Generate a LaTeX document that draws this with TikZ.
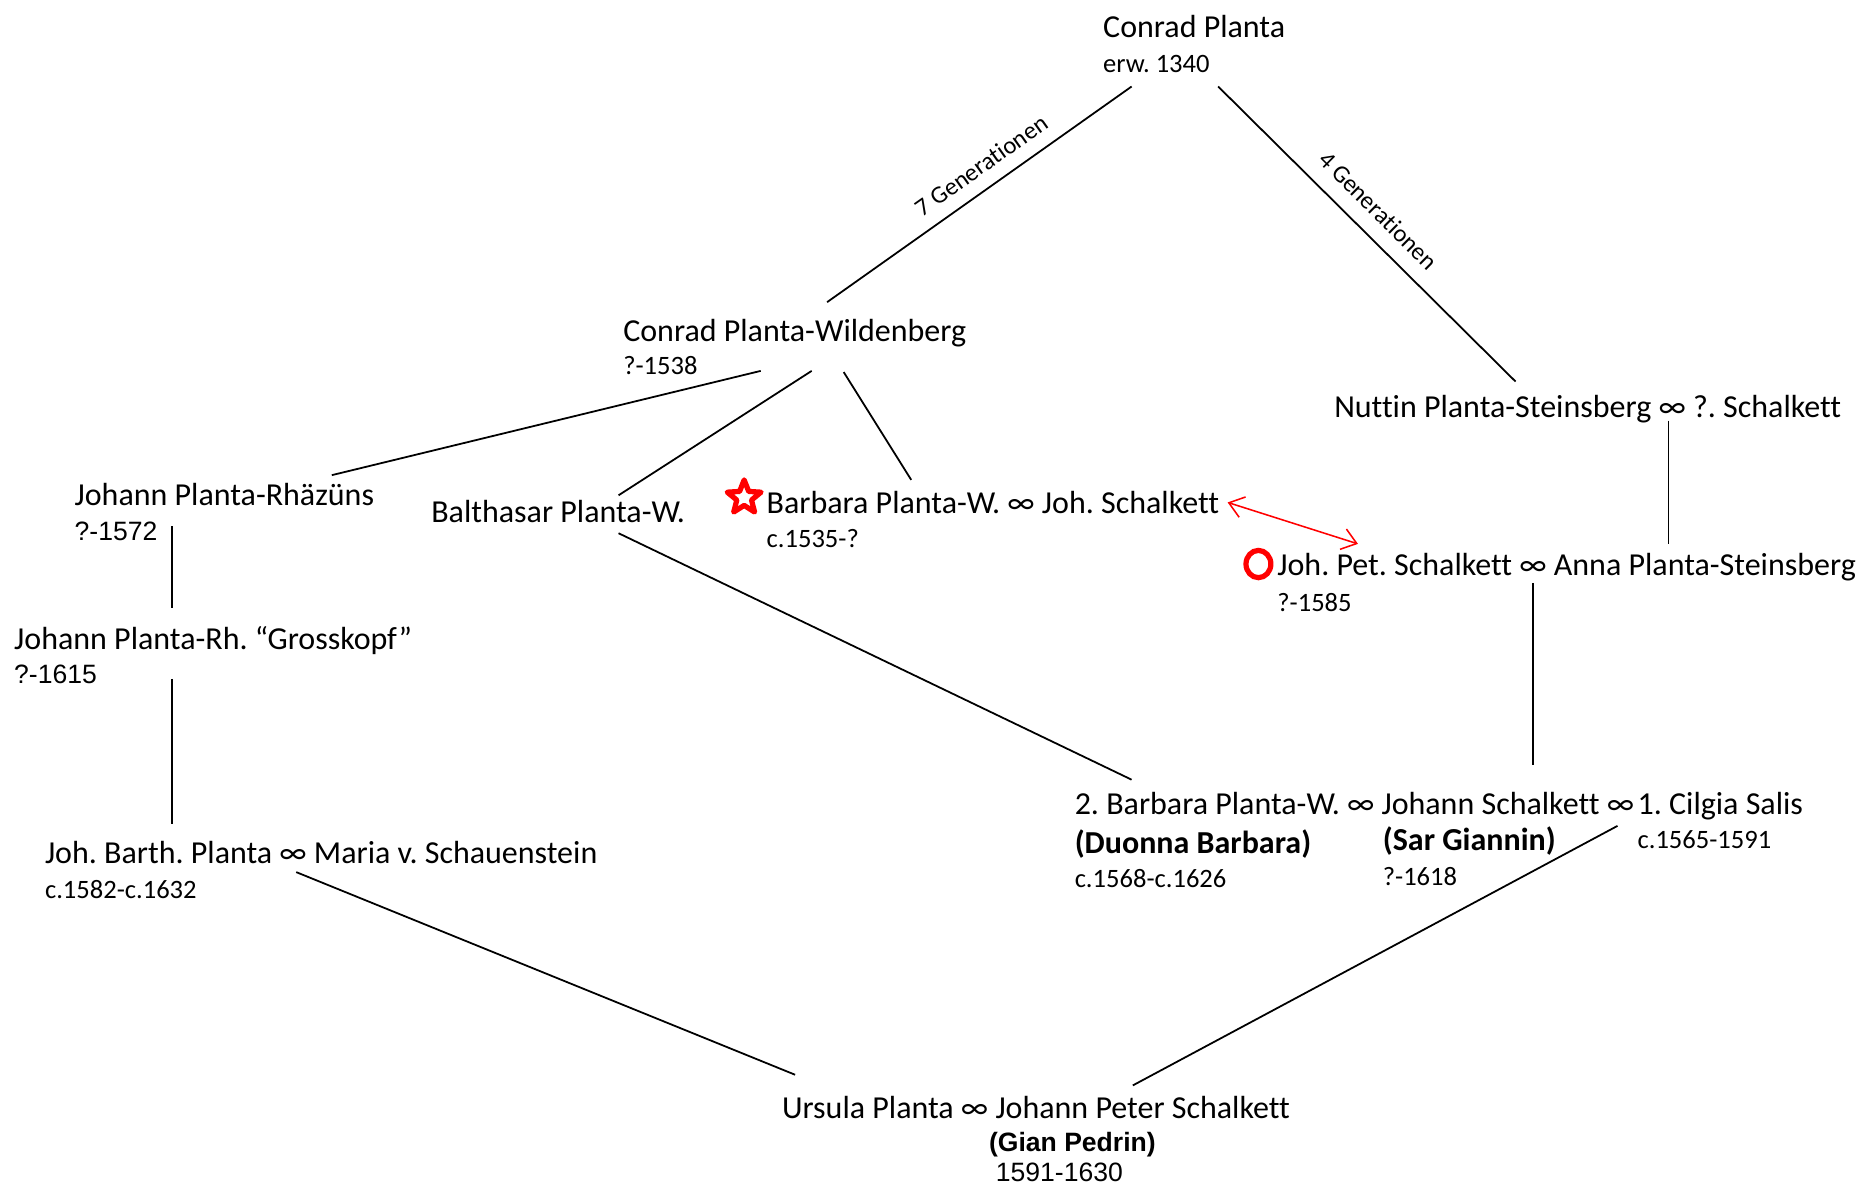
\documentclass[tikz,border=0pt]{standalone}
\usepackage{fontspec}
\setmainfont{Carlito}[Ligatures=NoCommon]
\newfontfamily\arialf{Liberation Sans}
\usetikzlibrary{calc,arrows.meta,shapes.geometric}
\frenchspacing
\tikzset{
  mainfont/.style={font=\fontsize{13.5}{16}\selectfont},
  smallfont/.style={font=\fontsize{11.2}{13}\selectfont},
  txt/.style={anchor=base west,inner sep=0pt,outer sep=0pt,mainfont},
  sub/.style={anchor=base west,inner sep=0pt,outer sep=0pt,smallfont},
  subarial/.style={anchor=base west,inner sep=0pt,outer sep=0pt,font=\arialf\fontsize{11.2}{13}\selectfont},
  lineage/.style={draw=black,line width=0.75pt},
  genlabel/.style={inner sep=0pt,font=\fontsize{10.4}{12}\selectfont},
  redlink/.style={draw=red,line width=0.65pt,{Straight Barb[length=6pt,width=9pt]}-{Straight Barb[length=6pt,width=9pt]}},
}
\begin{document}
\frenchspacing
\begin{tikzpicture}[x=0.5pt,y=-0.5pt]
\useasboundingbox (0,0) rectangle (1568,999);
% persons
\node[txt] (cp) at (931,32) {Conrad Planta};
\node[sub] (cpd) at (931,61) {erw. 1340};
\node[txt] (cpw) at (526,288) {Conrad Planta-Wildenberg};
\node[sub] (cpwd) at (526,316) {?-1538};
\node[txt] (nut) at (1126,352) {Nuttin Planta-Steinsberg ∞ ?. Schalkett};
\node[txt] (jpr) at (63,427) {Johann Planta-Rhäzüns};
\node[subarial] (jprd) at (63,456) {?-1572};
\node[txt] (bal) at (364,441) {Balthasar Planta-W.};
\node[txt] (bar) at (647,433) {Barbara Planta-W. ∞ Joh. Schalkett};
\node[sub] (bard) at (647,462) {c.1535-?};
\node[star,star points=5,star point ratio=2.3,draw=red,fill=white,line width=2.2pt,line join=round,minimum size=15pt,inner sep=0pt] (star) at (628,420) {};
\node[txt] (jps) at (1078,486) {Joh. Pet. Schalkett ∞ Anna Planta-Steinsberg};
\node[sub] (jpsd) at (1078,516) {?-1585};
\node[ellipse,draw=red,line width=2.2pt,minimum width=10.5pt,minimum height=11.5pt,inner sep=0pt] (ring) at (1062,476) {};
\node[txt] (gk) at (12,548) {Johann Planta-Rh. “Grosskopf”};
\node[subarial] (gkd) at (12,577) {?-1615};
\node[txt] (jbp) at (38,729) {Joh. Barth. Planta ∞ Maria v. Schauenstein};
\node[sub] (jbpd) at (38,758) {c.1582-c.1632};
\node[txt] (js) at (907,687) {2. Barbara Planta-W. ∞ Johann Schalkett ∞};
\node[txt,font=\fontsize{13.5}{16}\selectfont\bfseries] (db) at (907,720) {(Duonna Barbara)};
\node[sub] (dbd) at (907,749) {c.1568-c.1626};
\node[txt,font=\fontsize{13.5}{16}\selectfont\bfseries] (sg) at (1167,718) {(Sar Giannin)};
\node[sub] (sgd) at (1167,747) {?-1618};
\node[txt] (cs) at (1382,687) {1. Cilgia Salis};
\node[sub] (csd) at (1382,716) {c.1565-1591};
\node[txt] (up) at (660,944) {Ursula Planta ∞ Johann Peter Schalkett};
\node[anchor=base,inner sep=0pt,font=\arialf\bfseries\fontsize{11.2}{13}\selectfont] (gp) at (905,972) {(Gian Pedrin)};
\node[anchor=base,inner sep=0pt,font=\arialf\fontsize{11.2}{13}\selectfont] (gpd) at (894,997) {1591-1630};
% connectors
\draw[lineage] ($(cp.base west)+(24,41)$) -- node[genlabel,sloped,above=5.5pt,pos=0.45] (g7) {7 Generationen} ($(cpw.base west)+(172,-33)$);
\draw[lineage] ($(cp.base west)+(97,41)$) -- node[genlabel,sloped,above=6.5pt,pos=0.48] (g4) {4 Generationen} ($(nut.base west)+(153,-30)$);
\draw[lineage] ($(cpw.base west)+(116,25)$) -- ($(jpr.base west)+(217,-26)$);
\draw[lineage] ($(cpw.base west)+(159,25)$) -- ($(bal.base west)+(158,-23)$);
\draw[lineage] ($(cpw.base west)+(186,26)$) -- ($(bar.base west)+(122,-28)$);
\draw[lineage] ($(jpr.base west)+(82,17)$) -- ($(gk.base west)+(133,-35)$);
\draw[lineage] ($(gk.base west)+(133,25)$) -- ($(jbp.base west)+(107,-34)$);
\draw[lineage] ($(bal.base west)+(158,9)$) -- ($(js.base west)+(48,-29)$);
\draw[lineage] ($(nut.base west)+(282,3)$) -- ($(jps.base west)+(330,-27)$);
\draw[lineage] ($(jps.base west)+(216,6)$) -- ($(js.base west)+(387,-41)$);
\draw[lineage] ($(cs.base west)+(-17,10)$) -- ($(up.base west)+(296,-28)$);
\draw[lineage] ($(jbp.base west)+(212,7)$) -- ($(up.base west)+(11,-37)$);
\draw[redlink] ($(bar.base west)+(389,-9)$) -- ($(jps.base west)+(68,-27)$);
\end{tikzpicture}
\end{document}
